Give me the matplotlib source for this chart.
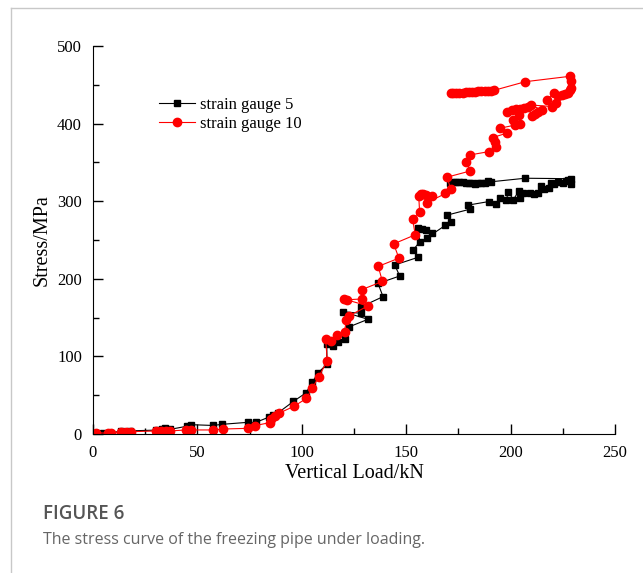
import matplotlib.pyplot as plt

# strain gauge 5 (black), in recording order
load_g5 = [1.5, 5, 8, 13.5, 15.5, 17.5, 30, 33, 34.5, 37, 45, 47, 57.5, 62, 74, 78,
           84.5, 86, 88.5, 96, 102, 105, 107.7, 112, 112, 114.8, 117.3, 120.5, 122.6,
           131.7, 119.7, 128.5, 128.5, 138.9, 136.5, 146.9, 144.5, 155.7, 153.3,
           156.5, 155.7, 157.5, 159.7, 162.5, 160, 168.8, 171.3, 169.5, 180.4, 179.7,
           189.7, 193, 194.7, 198, 198.9, 201.3, 203.8, 204.6, 206, 209.5, 211, 213,
           214.5, 216, 218.6, 219.5, 221, 222.8, 225, 226.5, 227.7, 229, 229,
           207, 190.5, 189, 187.5, 186, 184.5, 183, 181.5, 180, 178.5, 177, 175.5,
           174, 172.5, 171]
stress_g5 = [1, 1, 1.7, 3.5, 3, 4, 5, 7, 7.5, 6, 10, 12, 11, 12.5, 15, 15,
             22, 24, 27, 42, 53, 66.5, 78.5, 90, 116, 113, 119, 123, 138,
             147.8, 157.6, 155.5, 164, 177, 194, 203.6, 217.8, 227.7, 237,
             247.8, 265, 264, 263, 259, 253, 269, 273.6, 282, 289.6, 295,
             299.6, 297, 304, 301.7, 312.5, 301.7, 313, 304, 311, 310, 309, 310,
             319, 316, 317, 323, 322, 325, 323, 326, 327.5, 322, 329,
             329.6, 325, 325.5, 324, 323.5, 323, 322.5, 323.5, 324, 324, 324.5, 325,
             324.5, 324.5, 324]

# strain gauge 10 (red), in recording order
load_g10 = [1.6, 7.2, 8.8, 13.6, 16, 18.4, 30.4, 32.8, 35.1, 36.7, 44.7, 47.1, 57.5,
            62.3, 74.2, 77.4, 84.6, 85.4, 87, 89, 96.5, 102.2, 105, 108, 112.2, 111.4,
            113.9, 116.8, 120.5, 121.3, 122.4, 131.7, 120.1, 121.8, 128.7, 128.7,
            138.6, 136.6, 146.5, 144, 154.3, 153.1, 156.4, 156, 157, 158, 159.5,
            162.5, 160, 168.8, 171.3, 169.6, 180.7, 178.7, 180.7, 189.8, 193, 192.7,
            191.4, 198.5, 194.7, 202, 204.6, 201.3, 203.8, 198.3, 200.5, 202.5, 204.5,
            206.5, 208.5, 210, 211.5, 213, 215, 209.6, 219.8, 221.5, 217.3, 220.7,
            222.5, 224.8, 226, 227.3, 228.5, 229, 229, 228.5,
            207, 192.2, 190.5, 189, 187.5, 186, 184.5, 183, 181.5, 180, 178.5, 177,
            175.5, 174, 172.5, 171.5]
stress_g10 = [1.7, 0.9, 1.7, 2.1, 2.1, 3, 3.9, 3.9, 3.9, 3.9, 5.2, 5.2, 5.2,
              6.4, 7.3, 10.7, 14.6, 18.9, 23.2, 26.6, 36, 45.9, 59, 73, 94.4, 122.7,
              120, 128, 132, 147, 152, 165, 174, 173, 174, 186,
              196.6, 216, 226.6, 245, 256.7, 276.8, 286.7, 307, 309, 309, 308,
              307, 298, 310, 315.5, 331, 339, 351, 359.7, 364, 369.5, 376.8,
              382, 388, 394, 398, 399.6, 404.7, 411, 415.5, 417.6, 418.5, 419,
              420, 421, 410, 413, 415, 417.6, 424, 422, 426, 431, 439,
              436, 437, 438, 439, 443, 445.5, 455, 461,
              454, 443, 442.5, 442, 442, 441.5, 441.5, 441, 441, 440.5, 440.5, 440,
              440, 440, 439.5, 439.5]

serif = ['Liberation Serif', 'DejaVu Serif']
fig = plt.figure(figsize=(6.43, 5.73), dpi=100)
ax = fig.add_axes([0.1446, 0.2426, 0.8119, 0.6771])

ax.plot(load_g5, stress_g5, color='black', lw=0.8, marker='s', ms=5,
        label='strain gauge 5')
ax.plot(load_g10, stress_g10, color='red', lw=0.8, marker='o', ms=6,
        label='strain gauge 10')

ax.set_xlim(0, 250)
ax.set_ylim(0, 500)
ax.set_xticks([0, 50, 100, 150, 200, 250])
ax.set_xticks(range(25, 250, 50), minor=True)
ax.set_yticks([0, 100, 200, 300, 400, 500])
ax.set_yticks(range(50, 500, 100), minor=True)
ax.tick_params(which='major', direction='in', length=7, width=1, labelsize=12, pad=8)
ax.tick_params(which='minor', direction='in', length=4, width=1)
for lab in ax.get_xticklabels() + ax.get_yticklabels():
    lab.set_family(serif)
ax.spines['top'].set_visible(False)
ax.spines['right'].set_visible(False)
ax.set_xlabel('Vertical Load/kN', family=serif, fontsize=14.5, labelpad=2)
ax.set_ylabel('Stress/MPa', family=serif, fontsize=14.5, labelpad=4)

ax.legend(loc='upper left', bbox_to_anchor=(0.097, 0.908), frameon=False,
          prop={'family': serif, 'size': 12}, handlelength=2.2,
          handletextpad=0.3, labelspacing=0.2)

# page frame and caption
fig.add_artist(plt.Line2D([11 / 643, 11 / 643], [0, 1 - 8 / 573], color='#c8c8c8', lw=1))
fig.add_artist(plt.Line2D([11 / 643, 1], [1 - 8 / 573, 1 - 8 / 573], color='#c8c8c8', lw=1))
fig.text(43 / 643, 1 - 514 / 573, 'FIGURE 6', family='Open Sans', weight='semibold',
         fontsize=13.5, color='#555555', va='center')
fig.text(43 / 643, 1 - 540 / 573, 'The stress curve of the freezing pipe under loading.',
         family='Open Sans', fontsize=11.5, color='#666666', va='center')

fig.savefig('out.png', dpi=100)
